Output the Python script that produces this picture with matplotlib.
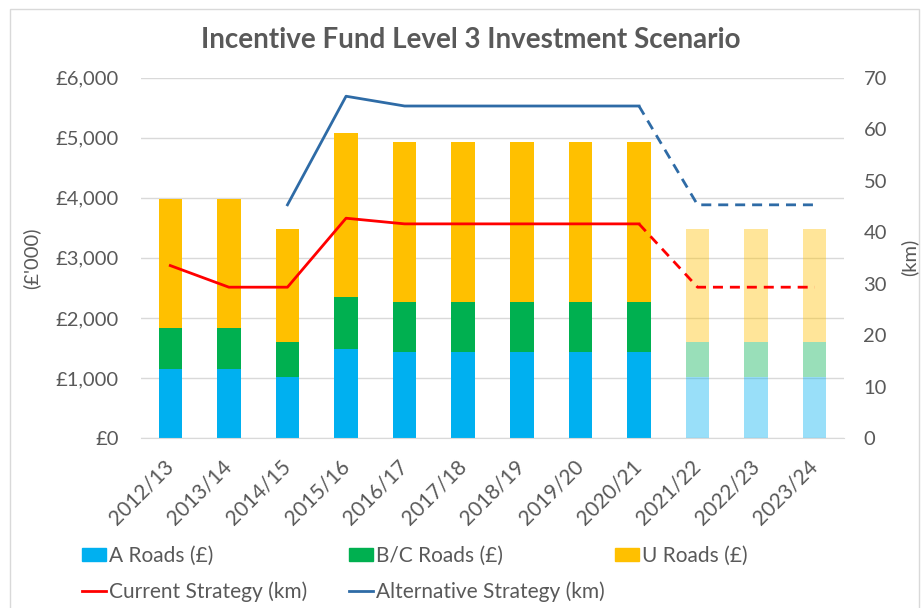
import numpy as np
import matplotlib
matplotlib.use('Agg')
import matplotlib.pyplot as plt
from matplotlib.patches import Patch, Rectangle
from matplotlib.lines import Line2D

plt.rcParams['font.family'] = ['Lato', 'DejaVu Sans']

# data
years = ['2012/13', '2013/14', '2014/15', '2015/16', '2016/17', '2017/18',
         '2018/19', '2019/20', '2020/21', '2021/22', '2022/23', '2023/24']
a_roads = [1150, 1150, 1010, 1480, 1430, 1430, 1430, 1430, 1430, 1010, 1010, 1010]
bc_roads = [680, 680, 585, 865, 840, 840, 840, 840, 840, 585, 585, 585]
u_roads = [2150, 2150, 1880, 2730, 2665, 2665, 2665, 2665, 2665, 1880, 1880, 1880]
current_km = [33.5, 29.3, 29.3, 42.7, 41.6, 41.6, 41.6, 41.6, 41.6, 29.3, 29.3, 29.3]
alternative_km = [np.nan, np.nan, 45.3, 66.4, 64.5, 64.5, 64.5, 64.5, 64.5, 45.3, 45.3, 45.3]
last_actual = 8  # 2020/21, later years are projections

grey = '#595959'
c_a, c_bc, c_u = '#00B0F0', '#00B050', '#FFC000'
c_cur, c_alt = '#FF0000', '#2E6BA6'

fig = plt.figure(figsize=(9.22, 6.08), dpi=100)
ax = fig.add_axes([141/922, 1 - 438/608, 703/922, 360.3/608])

x = np.arange(len(years))
a = np.array(a_roads)
bc = np.array(bc_roads)
u = np.array(u_roads)
w = 0.4
for i in x:
    al = 1.0 if i <= last_actual else 0.4
    ax.bar(i, a[i], w, color=c_a, alpha=al, zorder=2)
    ax.bar(i, bc[i], w, bottom=a[i], color=c_bc, alpha=al, zorder=2)
    ax.bar(i, u[i], w, bottom=a[i] + bc[i], color=c_u, alpha=al, zorder=2)

ax.set_xlim(-0.5, len(years) - 0.5)
ax.set_ylim(0, 6000)
ax.set_yticks(range(0, 6001, 1000))
ax.set_yticklabels(['£{:,}'.format(v) for v in range(0, 6001, 1000)])
ax.yaxis.grid(True, color='#D9D9D9', lw=1, zorder=0)
ax.set_axisbelow(True)
for s in ['top', 'left', 'right']:
    ax.spines[s].set_visible(False)
ax.spines['bottom'].set_color('#D9D9D9')
ax.tick_params(axis='y', length=0, pad=16, labelsize=14.5, labelcolor=grey)
ax.tick_params(axis='x', length=0, pad=18, labelsize=15, labelcolor=grey)
ax.set_xticks(x)
ax.set_xticklabels(years, rotation=45, ha='right', va='center', rotation_mode='anchor')
ax.set_ylabel("(£'000)", fontsize=14.5, color=grey)
ax.yaxis.set_label_coords(-0.1437, 0.5)

ax2 = ax.twinx()
ax2.set_ylim(0, 70)
ax2.set_yticks(range(0, 71, 10))
for s in ['top', 'left', 'right', 'bottom']:
    ax2.spines[s].set_visible(False)
ax2.tick_params(axis='y', length=0, pad=14, labelsize=14.5, labelcolor=grey)
ax2.set_ylabel('(km)', fontsize=14.5, color=grey)
ax2.yaxis.set_label_coords(1.0797, 0.5)

cur = np.array(current_km)
alt = np.array(alternative_km)
dash = (0, (3.6, 2.5))
ax2.plot(x[:last_actual + 1], cur[:last_actual + 1], color=c_cur, lw=2)
ax2.plot(x[last_actual:], cur[last_actual:], color=c_cur, lw=2, ls=dash)
ax2.plot(x[:last_actual + 1], alt[:last_actual + 1], color=c_alt, lw=2)
ax2.plot(x[last_actual:], alt[last_actual:], color=c_alt, lw=2, ls=dash)

fig.text(471/922, 1 - 40/608, 'Incentive Fund Level 3 Investment Scenario',
         ha='center', va='center', fontsize=20, fontweight='bold', color=grey)

# legend in three columns like Excel
cols = [
    (82, [Patch(color=c_a), Line2D([], [], color=c_cur, lw=2)],
     ['A Roads (£)', 'Current Strategy (km)']),
    (349, [Patch(color=c_bc), Line2D([], [], color=c_alt, lw=2)],
     ['B/C Roads (£)', 'Alternative Strategy (km)']),
    (615, [Patch(color=c_u)], ['U Roads (£)']),
]
for px, hs, ls in cols:
    leg = fig.legend(hs, ls, loc='upper left', bbox_to_anchor=(px/922, 1 - 546/608),
                     frameon=False, fontsize=15, borderpad=0, borderaxespad=0,
                     handlelength=1.15, handleheight=0.63, handletextpad=0.15,
                     labelspacing=0.72)
    for t in leg.get_texts():
        t.set_color(grey)

fig.patches.append(Rectangle((10/922, -0.05), 909/922, 1.05 - 9/608,
                             transform=fig.transFigure, fill=False,
                             edgecolor='#D9D9D9', lw=1))

fig.savefig('out.png', dpi=100)
